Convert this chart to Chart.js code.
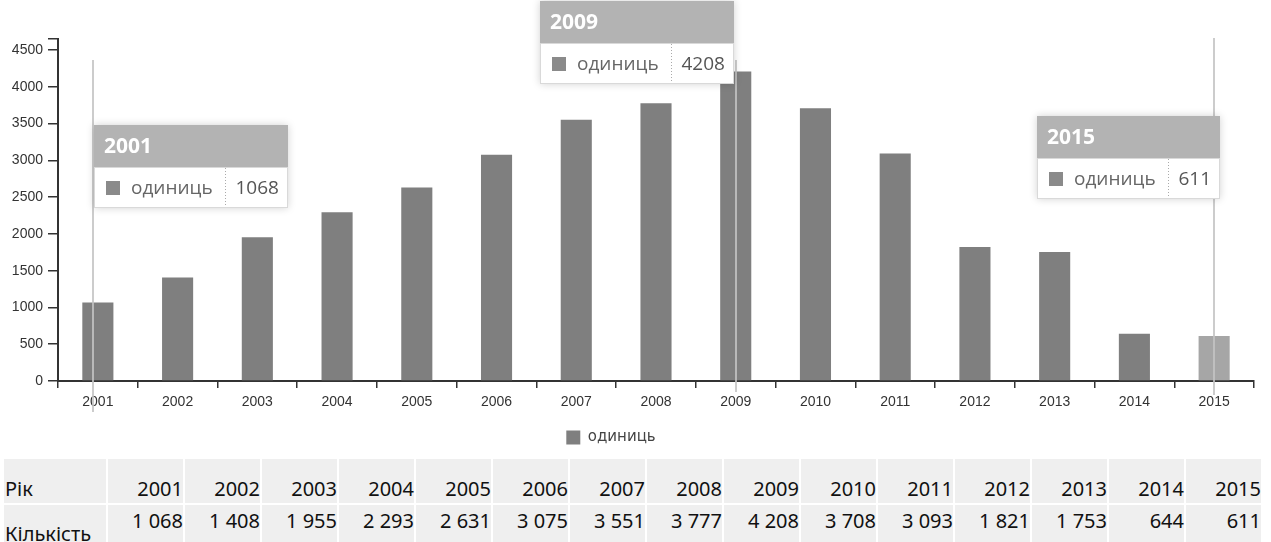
<!DOCTYPE html>
<html>
<head>
<meta charset="utf-8">
<script src="https://cdn.jsdelivr.net/npm/chart.js@4/dist/chart.umd.min.js"></script>
<style>
html,body{margin:0;padding:0;background:#fff;width:1271px;height:542px;overflow:hidden;}
#wrap{position:relative;width:1271px;height:542px;overflow:hidden;}
#c{position:absolute;left:0;top:0;}
#tbl{position:absolute;left:2px;top:457px;border-collapse:separate;border-spacing:2px;table-layout:fixed;width:1259px;
  font-family:"Noto Sans",sans-serif;font-size:20px;color:#111;}
#tbl td{background:#efefef;padding:0;text-align:right;line-height:24px;white-space:nowrap;overflow:visible;}
#tbl td.lab{text-align:left;text-indent:1px;}
#tbl tr{height:44px;}
#tbl tr.r1 td{vertical-align:bottom;padding-bottom:2px;}
#tbl tr.r2 td{vertical-align:top;padding-top:4px;}
#tbl tr.r2 td.lab{vertical-align:bottom;padding-top:0;padding-bottom:3px;}
</style>
</head>
<body>
<div id="wrap">
  <canvas id="c" width="1271" height="455"></canvas>
  <table id="tbl"><colgroup id="cols"></colgroup><tbody id="tb"></tbody></table>
</div>
<script>
// ---- data ----
const years = ['2001','2002','2003','2004','2005','2006','2007','2008','2009','2010','2011','2012','2013','2014','2015'];
const units = [1068, 1408, 1955, 2293, 2631, 3075, 3551, 3777, 4208, 3708, 3093, 1821, 1753, 644, 611];
const seriesName = 'одиниць';
const yTickValues = [0, 500, 1000, 1500, 2000, 2500, 3000, 3500, 4000, 4500];
const yAxisMax = 4650;
const rowLabels = ['Рік', 'Кількість'];
const tooltipYears = ['2001', '2009', '2015'];
const highlightedYear = '2015';

// ---- placement of the shown hover boxes (layout only) ----
const tipLayout = {
  '2001': {side: 'right', gap: 1,  top: 125, dx: -5, lineTop: 60, lineBottom: 412},
  '2009': {side: 'left',  gap: 2,  top: 1,   dx: 0,  lineTop: 60, lineBottom: 392},
  '2015': {side: 'left',  gap: -6, top: 116, dx: 0,  lineTop: 38, lineBottom: 395}
};
const LEGEND_SHIFT = -16;

// ---- table ----
(function buildTable(){
  const cols = document.getElementById('cols');
  let h = '<col style="width:102px">';
  years.forEach(() => { h += '<col style="width:75px">'; });
  cols.innerHTML = h;
  const tb = document.getElementById('tb');
  const fmt = v => v.toLocaleString('uk-UA');
  let r1 = '<tr class="r1"><td class="lab">' + rowLabels[0] + '</td>';
  years.forEach(y => { r1 += '<td>' + y + '</td>'; });
  r1 += '</tr>';
  let r2 = '<tr class="r2"><td class="lab">' + rowLabels[1] + '</td>';
  units.forEach(v => { r2 += '<td>' + fmt(v) + '</td>'; });
  r2 += '</tr>';
  tb.innerHTML = r1 + r2;
})();

function drawTip(ctx, year, value, x, L) {
  const H1 = 42, H2 = 41;
  ctx.save();
  ctx.font = '19px "Open Sans"';
  const lw = ctx.measureText(seriesName).width;
  const valText = String(value);
  const vw = ctx.measureText(valText).width;
  const w = Math.round(37 + lw + 12 + 10 + vw + 10);
  const left = Math.round(L.side === 'right' ? x + L.gap : x - L.gap - w);
  const top = L.top;
  // shadow + body
  ctx.shadowColor = 'rgba(0,0,0,0.18)';
  ctx.shadowBlur = 8;
  ctx.fillStyle = '#ffffff';
  ctx.fillRect(left, top, w, H1 + H2);
  ctx.shadowColor = 'transparent';
  ctx.shadowBlur = 0;
  // header
  ctx.fillStyle = '#b3b3b3';
  ctx.fillRect(left, top, w, H1);
  // body border
  ctx.strokeStyle = '#d9d9d9';
  ctx.lineWidth = 1;
  ctx.strokeRect(left + 0.5, top + H1 + 0.5, w - 1, H2 - 1);
  // header text
  ctx.fillStyle = '#ffffff';
  ctx.font = 'bold 21px "Open Sans"';
  ctx.textBaseline = 'middle';
  ctx.textAlign = 'left';
  ctx.fillText(year, left + 10, top + H1 / 2 + 1);
  // body
  const cy = top + H1 + H2 / 2;
  ctx.fillStyle = '#8a8a8a';
  ctx.fillRect(left + 12, Math.round(cy - 7), 14, 14);
  ctx.font = '19px "Open Sans"';
  ctx.fillStyle = '#666666';
  ctx.fillText(seriesName, left + 37, cy + 1);
  const sx = Math.round(left + 37 + lw + 12) + 0.5;
  ctx.setLineDash([1, 2]);
  ctx.strokeStyle = '#aaaaaa';
  ctx.beginPath();
  ctx.moveTo(sx, top + H1 + 1);
  ctx.lineTo(sx, top + H1 + H2 - 1);
  ctx.stroke();
  ctx.setLineDash([]);
  ctx.fillStyle = '#555555';
  ctx.fillText(valText, sx + 10, cy + 1);
  ctx.restore();
}

const hoverPlugin = {
  id: 'hoverMarks',
  afterLayout(chart) {
    chart.legend.left += LEGEND_SHIFT;
    chart.legend.right += LEGEND_SHIFT;
  },
  afterDraw(chart) {
    const ctx = chart.ctx, xs = chart.scales.x;
    tooltipYears.forEach(y => {
      const L = tipLayout[y];
      const x = Math.round(xs.getPixelForValue(years.indexOf(y)) + L.dx);
      ctx.save();
      ctx.strokeStyle = 'rgba(195,195,195,0.85)';
      ctx.lineWidth = 2;
      ctx.beginPath();
      ctx.moveTo(x, L.lineTop);
      ctx.lineTo(x, L.lineBottom);
      ctx.stroke();
      ctx.restore();
    });
    tooltipYears.forEach(y => {
      const L = tipLayout[y];
      const i = years.indexOf(y);
      const x = Math.round(xs.getPixelForValue(i) + L.dx);
      drawTip(ctx, y, units[i], x, L);
    });
  }
};

function makeChart() {
  new Chart(document.getElementById('c'), {
    type: 'bar',
    data: {
      labels: years,
      datasets: [{
        label: seriesName,
        data: units,
        backgroundColor: c => (years[c.dataIndex] === highlightedYear ? '#a6a6a6' : '#7f7f7f'),
        borderWidth: 0,
        barPercentage: 0.39,
        categoryPercentage: 1
      }]
    },
    options: {
      responsive: false,
      animation: false,
      devicePixelRatio: 1,
      layout: {padding: {top: 39, right: 17, left: 0, bottom: 0}},
      plugins: {
        tooltip: {enabled: false},
        legend: {
          position: 'bottom',
          labels: {
            boxWidth: 14, boxHeight: 14, padding: 10,
            color: '#444',
            font: {family: '"DejaVu Sans"', size: 15}
          }
        }
      },
      scales: {
        x: {
          offset: true,
          grid: {offset: true, drawOnChartArea: false, drawTicks: true, tickLength: 7, color: '#333', lineWidth: 1.5},
          border: {color: '#333', width: 2},
          ticks: {color: '#333', padding: 6, maxRotation: 0, autoSkip: false,
                  font: {family: '"Liberation Sans"', size: 14}},
          afterFit: s => { s.height = 39; }
        },
        y: {
          min: 0,
          max: yAxisMax,
          afterBuildTicks: s => {
            s.ticks = yTickValues.map(v => ({value: v})).concat([{value: yAxisMax}]);
          },
          grid: {drawOnChartArea: false, drawTicks: true, tickLength: 10, color: '#333', lineWidth: 1.5},
          border: {color: '#333', width: 2},
          ticks: {color: '#333', padding: 5,
                  font: {family: '"Liberation Sans"', size: 14},
                  callback: v => (yTickValues.indexOf(v) >= 0 ? String(v) : '')},
          afterFit: s => { s.width = 58; }
        }
      }
    },
    plugins: [hoverPlugin]
  });
}

Promise.all([
  document.fonts.load('19px "Open Sans"'),
  document.fonts.load('bold 21px "Open Sans"'),
  document.fonts.load('14px "Liberation Sans"'),
  document.fonts.load('15px "DejaVu Sans"'),
  document.fonts.load('20px "Noto Sans"')
]).then(makeChart, makeChart);
</script>
</body>
</html>
